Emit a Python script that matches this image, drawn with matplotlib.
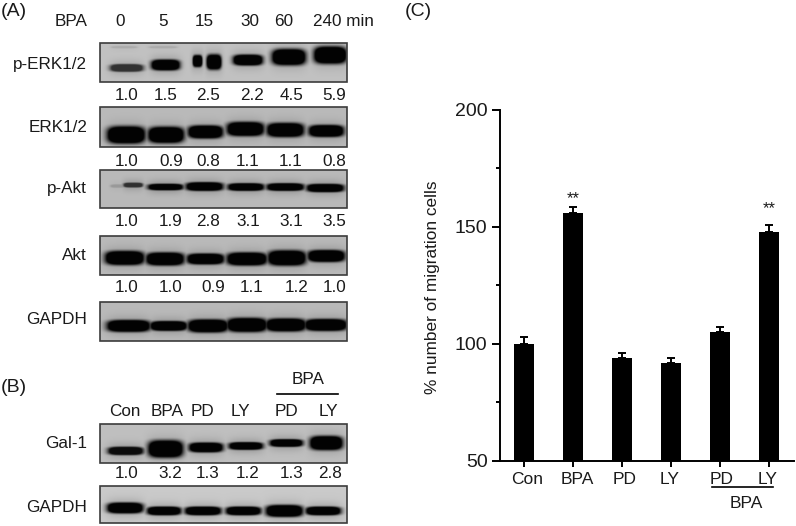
#!/usr/bin/python3
import numpy as np
import matplotlib
matplotlib.use("Agg")
import matplotlib.pyplot as plt
from matplotlib.patches import Rectangle

plt.rcParams['font.family'] = ['Liberation Sans', 'DejaVu Sans']

W, H = 796, 526

###bar chart data (C)
groups = ["Con", "BPA", "PD", "LY", "PD", "LY"]
migration = [100, 156, 94, 92, 105, 148]
migration_err = [3, 2.5, 2, 2, 2, 3]
star_bars = [1, 5]
star_heights = [162, 158]

###blot bands, in pixels of the picture: left, right, middle, half height, darkness
#the last two p-ERK entries are the faint smears at the top of lanes 1 and 2
perk_l = [111, 152, 193, 207, 234, 273, 315, 112, 150]
perk_r = [142, 179, 202, 221, 262, 305, 346, 136, 176]
perk_m = [68, 65, 61, 62, 60, 57, 55, 47, 47]
perk_h = [3.5, 5, 5.5, 7, 5, 7.5, 8, 1, 1]
perk_d = [0.75, 1, 1, 1, 1, 1, 1, 0.12, 0.12]

erk_l = [108, 149, 189, 228, 268, 310]
erk_r = [144, 183, 222, 263, 303, 343]
erk_m = [135, 135, 132, 129, 130, 131]
erk_h = [8, 7.5, 6, 6.5, 6.5, 5.5]
erk_d = [1, 1, 1, 1, 1, 1]

#lane 1 of p-Akt fades out to the left, hence two entries for it
pakt_l = [124, 149, 187, 229, 268, 308, 111]
pakt_r = [142, 182, 222, 263, 303, 343, 128]
pakt_m = [185, 187, 186.5, 187, 187, 188, 186]
pakt_h = [2.2, 3, 4, 3.5, 3.5, 3.8, 1.5]
pakt_d = [0.75, 1, 1, 1, 1, 1, 0.18]

akt_l = [106, 147, 188, 228, 269, 309]
akt_r = [143, 183, 223, 266, 305, 344]
akt_m = [258, 259, 259, 259, 258, 256]
akt_h = [6.5, 6, 5, 6, 7, 5.5]
akt_d = [1, 1, 1, 1, 1, 1]

gapdh_l = [108, 151, 189, 228, 267, 306]
gapdh_r = [149, 186, 227, 266, 305, 346]
gapdh_m = [326, 326, 326, 325, 325, 325]
gapdh_h = [5.5, 4.5, 6, 6.5, 6, 5.5]
gapdh_d = [1, 1, 1, 1, 1, 1]

gal_l = [109, 149, 190, 230, 271, 311]
gal_r = [142, 182, 222, 262, 302, 342]
gal_m = [451, 449, 447.5, 446, 443, 443]
gal_h = [3.8, 8, 4.5, 3.5, 3.5, 6.5]
gal_d = [0.95, 1, 1, 1, 1, 1]

gapdh2_l = [108, 148, 186, 227, 267, 307]
gapdh2_r = [142, 180, 220, 260, 302, 340]
gapdh2_m = [508, 511, 511, 511, 511, 511]
gapdh2_h = [5, 4, 4, 4, 5.5, 4]
gapdh2_d = [1, 1, 1, 1, 1, 1]

###numbers under the blots
time_labels = ["0", "5", "15", "30", "60", "240 min"]
perk_ratio = ["1.0", "1.5", "2.5", "2.2", "4.5", "5.9"]
erk_ratio = ["1.0", "0.9", "0.8", "1.1", "1.1", "0.8"]
pakt_ratio = ["1.0", "1.9", "2.8", "3.1", "3.1", "3.5"]
akt_ratio = ["1.0", "1.0", "0.9", "1.1", "1.2", "1.0"]
gal_ratio = ["1.0", "3.2", "1.3", "1.2", "1.3", "2.8"]

BLOT_FS = 12.3
INK = "#1a1a1a"


def draw_blot(ax, top, bottom, left, right, mid, half, dark, bg=0.74):
    #renders the bands into a small grey image
    xs = np.linspace(100, 347, 494)
    ys = np.linspace(top, bottom, int((bottom - top) * 2))
    xx, yy = np.meshgrid(xs, ys)
    d = np.zeros_like(xx)
    for l, r, m, h, k in zip(left, right, mid, half, dark):
        c = (l + r) / 2
        hw = (r - l) / 2
        core = np.exp(-np.abs((xx - c) / hw) ** 4 - np.abs((yy - m) / h) ** 3)
        halo = np.exp(-((xx - c) / (hw + 2)) ** 4 - ((yy - m) / (h + 4)) ** 2)
        d = np.maximum(d, k * np.clip(2.4 * core, 0, 1))
        d = np.maximum(d, 0.22 * k * halo)
    grey = bg * (1 - d) + 0.01
    ax.imshow(grey, cmap="gray", vmin=0, vmax=1, aspect="auto",
              extent=(100, 347, bottom, top), interpolation="bilinear")
    ax.add_patch(Rectangle((100, top), 247, bottom - top, fill=False,
                           edgecolor="#3c3c3c", linewidth=1.2))


def row(ax, labels, xpos, y):
    for s, x in zip(labels, xpos):
        ax.text(x, y, s, fontsize=BLOT_FS, ha="center", va="center", color=INK)


fig = plt.figure(figsize=(W / 100, H / 100), dpi=100, facecolor="white")

#full figure axes in picture pixels, for the blots and their labels
bg_ax = fig.add_axes([0, 0, 1, 1])

draw_blot(bg_ax, 43, 82, perk_l, perk_r, perk_m, perk_h, perk_d, bg=0.75)
draw_blot(bg_ax, 107, 147, erk_l, erk_r, erk_m, erk_h, erk_d, bg=0.72)
draw_blot(bg_ax, 170, 208, pakt_l, pakt_r, pakt_m, pakt_h, pakt_d, bg=0.72)
draw_blot(bg_ax, 236, 275, akt_l, akt_r, akt_m, akt_h, akt_d, bg=0.72)
draw_blot(bg_ax, 302, 341, gapdh_l, gapdh_r, gapdh_m, gapdh_h, gapdh_d, bg=0.72)
draw_blot(bg_ax, 424, 463, gal_l, gal_r, gal_m, gal_h, gal_d, bg=0.74)
draw_blot(bg_ax, 486, 523, gapdh2_l, gapdh2_r, gapdh2_m, gapdh2_h, gapdh2_d, bg=0.78)

bg_ax.set_xlim(0, W)
bg_ax.set_ylim(H, 0)
bg_ax.axis("off")

for s, x, y in [("(A)", 1, 12), ("(B)", 1, 388), ("(C)", 405, 12)]:
    bg_ax.text(x, y, s, fontsize=14, ha="left", va="center", color=INK)

for s, y in [("p-ERK1/2", 65), ("ERK1/2", 127), ("p-Akt", 189), ("Akt", 255),
             ("GAPDH", 320), ("Gal-1", 444), ("GAPDH", 508)]:
    bg_ax.text(87, y, s, fontsize=BLOT_FS, ha="right", va="center", color=INK)

bg_ax.text(71, 22, "BPA", fontsize=BLOT_FS, ha="center", va="center", color=INK)
row(bg_ax, time_labels, [120, 163, 204, 250, 284, 343], 22)
row(bg_ax, perk_ratio, [127, 166, 208, 252, 292, 334], 96)
row(bg_ax, erk_ratio, [127, 171, 208, 248, 291, 334], 161)
row(bg_ax, pakt_ratio, [127, 171, 208, 248, 291, 334], 222)
row(bg_ax, akt_ratio, [127, 171, 213, 252, 297, 335], 288)
row(bg_ax, groups, [125, 167, 203, 240, 286, 328], 411)
row(bg_ax, gal_ratio, [127, 170, 208, 248, 292, 330], 473)
bg_ax.text(308, 379, "BPA", fontsize=BLOT_FS, ha="center", va="center", color=INK)
bg_ax.plot([277, 338], [394, 394], color="black", lw=1.2)

#bar chart
ax = fig.add_axes([500 / W, (H - 460.7) / H, 294 / W, 350.7 / H])
ax.patch.set_alpha(0)
x = np.arange(len(groups))
ax.bar(x, migration, width=0.42, color="black")
ax.errorbar(x, migration, yerr=[np.zeros(len(x)), migration_err], fmt="none",
            ecolor="black", elinewidth=1.4, capsize=3, capthick=1.4)
ax.set_xlim(-0.49, 5.51)
ax.set_ylim(50, 200)
ax.set_yticks([50, 100, 150, 200])
ax.set_yticks([75, 125, 175], minor=True)
ax.set_xticks(x)
ax.set_xticklabels([])
ax.tick_params(axis="y", which="major", length=6, width=1.4, labelsize=14, pad=3,
               labelcolor=INK)
ax.tick_params(axis="y", which="minor", length=3, width=1.4)
ax.tick_params(axis="x", length=4.5, width=1.4)
for side in ["top", "right"]:
    ax.spines[side].set_visible(False)
for side in ["left", "bottom"]:
    ax.spines[side].set_linewidth(1.4)

for i, sy in zip(star_bars, star_heights):
    ax.text(i, sy, "**", ha="center", va="center", fontsize=12, color=INK)

#the chart's own labels, placed in picture pixels
for s, lx in zip(groups, [527, 577, 625, 670, 722, 768]):
    bg_ax.text(lx, 479, s, fontsize=12.5, ha="center", va="center", color=INK)
bg_ax.plot([712, 773], [487, 487], color="black", lw=1.2)
bg_ax.text(746, 503, "BPA", fontsize=12.5, ha="center", va="center", color=INK)
bg_ax.text(433, 287, "% number of migration cells", fontsize=12.4, rotation=90,
           ha="center", va="center", color=INK)

fig.savefig("out.png", dpi=100, facecolor="white")
